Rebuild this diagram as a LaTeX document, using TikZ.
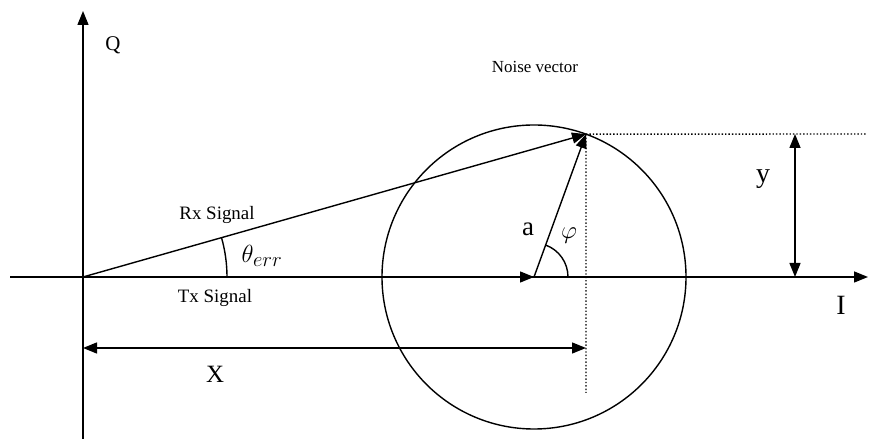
\documentclass[tikz,border=0pt]{standalone}
\usepackage{fontspec}
\setmainfont{Liberation Serif}
\usepackage{tikz}
\usetikzlibrary{arrows.meta,positioning,calc}

\newcommand{\fsz}[1]{\fontsize{#1}{#1}\selectfont}

\begin{document}
\begin{tikzpicture}[
  x=1bp, y=1bp,
  line width=1.4bp,
  vec/.style={-{Triangle[length=14bp,width=11bp]}},
  dvec/.style={{Triangle[length=14bp,width=11bp]}-{Triangle[length=14bp,width=11bp]}},
  guide/.style={dotted, line width=1.4bp},
  every node/.style={inner sep=0pt, outer sep=0pt}
]
\useasboundingbox (0,0) rectangle (869,439);

% points
\coordinate (O) at (83,162);
\coordinate (C) at (534,162);
\coordinate (T) at ($(C)+(70:152)$);

% axes
\draw[vec] (83,0) -- (83,428);
\draw[vec] (10,162) -- (868,162);
\node (Qlbl) at (113,394) {\fsz{21}Q};
\node (Ilbl) at (841,134) {\fsz{28}I};

% circle and vectors
\draw (C) circle (152);
\draw[vec] (O) -- (C);
\draw[vec] (O) -- (T);
\draw[vec] (C) -- (T);

% guides
\draw[guide] (T) -- (866,305);
\draw[guide] (T) -- (586,46);

% dimensions
\draw[dvec] (795,305) -- (795,162);
\draw[dvec] (83,91) -- (586,91);
\node (ylbl) at (763,260) {\fsz{28}y};
\node (xlbl) at (215,65) {\fsz{25}X};

% angles
\draw (O) ++(144,0) arc (0:15.9:144);
\draw (C) ++(34,0) arc (0:70:34);
\node (th) at (262,183) {\fsz{31}$\theta_{err}$};
\node (phi) at (569,203) {\fsz{30}$\varphi$};
\node (albl) at (528,210) {\fsz{27}a};

% labels
\node (rx) at (217,224) {\fsz{19}Rx Signal};
\node (tx) at (215,141) {\fsz{19}Tx Signal};
\node (noise) at (535,372) {\fsz{17}Noise vector};
\end{tikzpicture}
\end{document}
